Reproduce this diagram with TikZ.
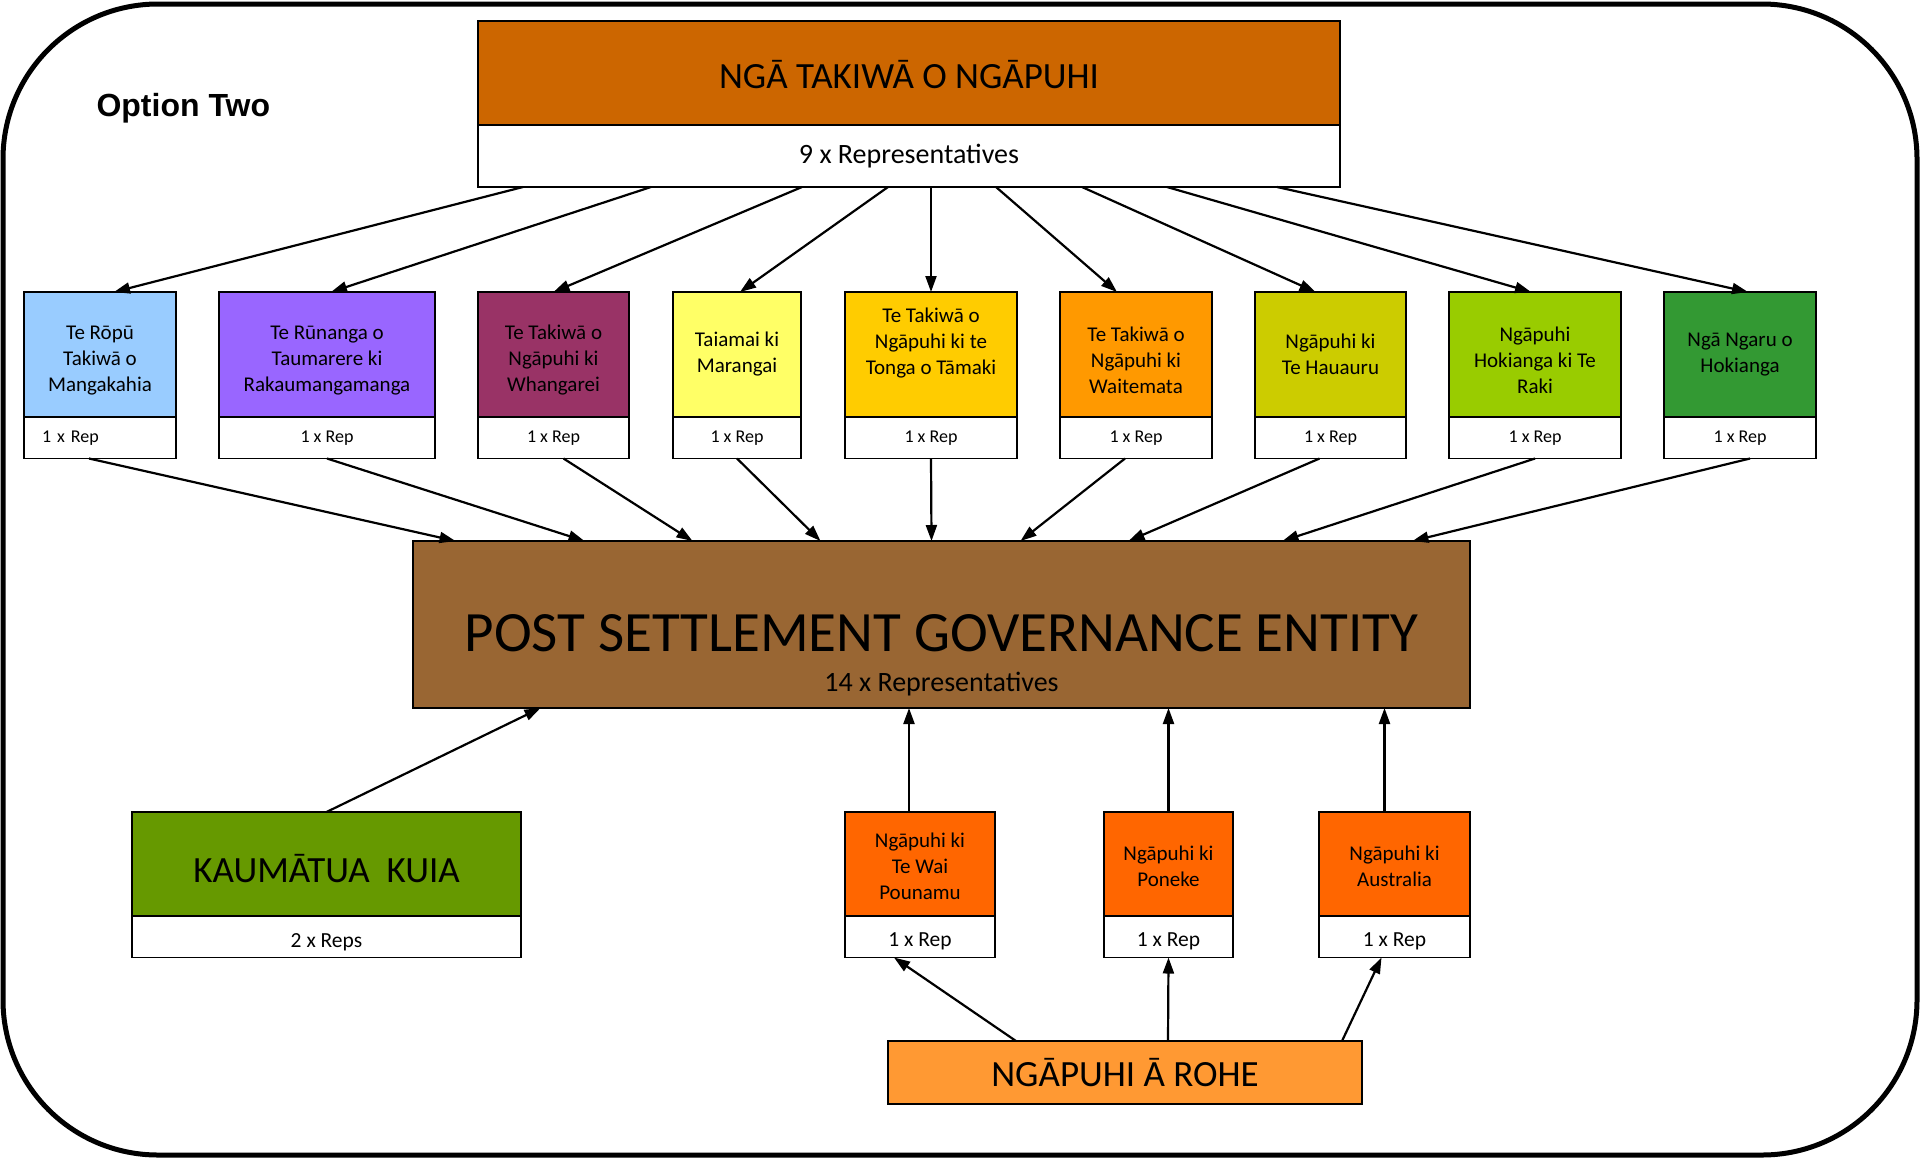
\documentclass[tikz,border=0pt]{standalone}
\usepackage{fontspec}
\setmainfont{Carlito}
\newfontfamily\optfont{Liberation Sans}
\usetikzlibrary{arrows.meta}
\usetikzlibrary{positioning}
\definecolor{hdrorange}{HTML}{CC6600}
\definecolor{rbblue}{HTML}{99CCFF}
\definecolor{rbpurple}{HTML}{9966FF}
\definecolor{rbmaroon}{HTML}{993366}
\definecolor{rbyellow}{HTML}{FFFF66}
\definecolor{rbgold}{HTML}{FFCC00}
\definecolor{rborange}{HTML}{FF9900}
\definecolor{rbolive}{HTML}{CCCC00}
\definecolor{rblime}{HTML}{99CC00}
\definecolor{rbgreen}{HTML}{339933}
\definecolor{psgebrown}{HTML}{996633}
\definecolor{kaugreen}{HTML}{669900}
\definecolor{ovorange}{HTML}{FF6600}
\definecolor{roheorange}{HTML}{FF9933}
\begin{document}
\begin{tikzpicture}[x=1pt,y=-1pt,
  box/.style={draw,line width=1.8pt,outer sep=0pt,inner sep=0pt,anchor=north west,align=center,font=\fontsize{21}{26}\selectfont},
  repbox/.style={draw,fill=white,line width=1.8pt,outer sep=0pt,inner sep=0pt,align=center,minimum height=41.5pt,font=\fontsize{18}{22}\selectfont},
  bigtxt/.style={font=\fontsize{37}{44}\selectfont},
  arr/.style={line width=2.2pt,-{Triangle[length=16pt,width=11pt]}}]
  \useasboundingbox (0,0) rectangle (1921,1160);
  \draw[line width=5pt,rounded corners=155pt] (3,4) rectangle (1917,1155);
  \node[anchor=west,font=\optfont\bfseries\fontsize{32}{38}\selectfont] (opt) at (93,108) {Option Two};
  
  % top
  \node[box,bigtxt,fill=hdrorange,minimum width=862pt,minimum height=104pt] (hdr) at (478,21) {\raisebox{-2pt}[\height][\depth]{NGĀ TAKIWĀ O NGĀPUHI}};
  \node[repbox,below=0pt of hdr,minimum width=862pt,minimum height=62pt,font=\fontsize{28}{34}\selectfont] (hdrR) {9 x Representatives};
  
  % row of takiwā
  \node[box,fill=rbblue,minimum width=152pt,minimum height=125pt] (b1) at (24,292) {\rule{0pt}{26pt}Te Rōpū\\Takiwā o\\Mangakahia};
  \node[box,fill=rbpurple,minimum width=216pt,minimum height=125pt] (b2) at (219,292) {\rule{0pt}{26pt}Te Rūnanga o\\Taumarere ki\\Rakaumangamanga};
  \node[box,fill=rbmaroon,minimum width=151pt,minimum height=125pt] (b3) at (478,292) {\rule{0pt}{26pt}Te Takiwā o\\Ngāpuhi ki\\Whangarei};
  \node[box,fill=rbyellow,minimum width=128pt,minimum height=125pt] (b4) at (673,292) {Taiamai ki\\Marangai};
  \node[box,fill=rbgold,minimum width=172pt,minimum height=125pt] (b5) at (845,292) {Te Takiwā o\\Ngāpuhi ki te\\Tonga o Tāmaki\\~};
  \node[box,fill=rborange,minimum width=152pt,minimum height=125pt] (b6) at (1060,292) {\rule{0pt}{26pt}Te Takiwā o\\Ngāpuhi ki\\Waitemata};
  \node[box,fill=rbolive,minimum width=151pt,minimum height=125pt] (b7) at (1255,292) {Ngāpuhi ki\\Te Hauauru};
  \node[box,fill=rblime,minimum width=172pt,minimum height=125pt] (b8) at (1449,292) {\rule{0pt}{26pt}Ngāpuhi\\Hokianga ki Te\\Raki};
  \node[box,fill=rbgreen,minimum width=152pt,minimum height=125pt] (b9) at (1664,292) {Ngā Ngaru o\\Hokianga};
  
  \node[repbox,below=0pt of b1,minimum width=152pt,text width=116pt,align=left] (b1R) {1 x Rep};
  \node[repbox,below=0pt of b2,minimum width=216pt] (b2R) {1 x Rep};
  \node[repbox,below=0pt of b3,minimum width=151pt] (b3R) {1 x Rep};
  \node[repbox,below=0pt of b4,minimum width=128pt] (b4R) {1 x Rep};
  \node[repbox,below=0pt of b5,minimum width=172pt] (b5R) {1 x Rep};
  \node[repbox,below=0pt of b6,minimum width=152pt] (b6R) {1 x Rep};
  \node[repbox,below=0pt of b7,minimum width=151pt] (b7R) {1 x Rep};
  \node[repbox,below=0pt of b8,minimum width=172pt] (b8R) {1 x Rep};
  \node[repbox,below=0pt of b9,minimum width=152pt] (b9R) {1 x Rep};
  
  % entity
  \node[box,fill=psgebrown,minimum width=1057pt,minimum height=167pt] (psge) at (413,541) {};
  \node[font=\fontsize{57}{66}\selectfont,inner sep=0pt] (psgeT) at ([yshift=-9pt]psge.center) {POST SETTLEMENT GOVERNANCE ENTITY};
  \node[font=\fontsize{28}{34}\selectfont,inner sep=0pt] (psgeS) at ([yshift=-60pt]psge.center) {14 x Representatives};
  
  % bottom
  \node[box,bigtxt,fill=kaugreen,minimum width=389pt,minimum height=104pt] (kau) at (132,812) {\raisebox{-5pt}[\height][\depth]{KAUMĀTUA\ \ KUIA}};
  \node[repbox,below=0pt of kau,minimum width=389pt,font=\fontsize{21.5}{26}\selectfont] (kauR) {\raisebox{-5pt}[\height][\depth]{2 x Reps}};
  \node[box,fill=ovorange,minimum width=150pt,minimum height=104pt] (oa) at (845,812) {\rule{0pt}{20pt}Ngāpuhi ki\\Te Wai\\Pounamu};
  \node[box,fill=ovorange,minimum width=129pt,minimum height=104pt] (ob) at (1104,812) {\rule{0pt}{20pt}Ngāpuhi ki\\Poneke};
  \node[box,fill=ovorange,minimum width=151pt,minimum height=104pt] (oc) at (1319,812) {\rule{0pt}{20pt}Ngāpuhi ki\\Australia};
  \node[repbox,below=0pt of oa,minimum width=150pt,font=\fontsize{21.5}{26}\selectfont] (oaR) {\raisebox{-5pt}[\height][\depth]{1 x Rep}};
  \node[repbox,below=0pt of ob,minimum width=129pt,font=\fontsize{21.5}{26}\selectfont] (obR) {\raisebox{-5pt}[\height][\depth]{1 x Rep}};
  \node[repbox,below=0pt of oc,minimum width=151pt,font=\fontsize{21.5}{26}\selectfont] (ocR) {\raisebox{-5pt}[\height][\depth]{1 x Rep}};
  \node[box,bigtxt,fill=roheorange,minimum width=474pt,minimum height=63pt] (rohe) at (888,1041) {NGĀPUHI Ā ROHE};
  
  \draw[arr]([xshift=-386pt]hdrR.south)--([xshift=14pt]b1.north);
  \draw[arr]([xshift=-258pt]hdrR.south)--([xshift=4pt]b2.north);
  \draw[arr]([xshift=-107pt]hdrR.south)--(b3.north);
  \draw[arr]([xshift=-21pt]hdrR.south)--([xshift=3pt]b4.north);
  \draw[arr]([xshift=22pt]hdrR.south)--(b5.north);
  \draw[arr]([xshift=87pt]hdrR.south)--([xshift=-19pt]b6.north);
  \draw[arr]([xshift=173pt]hdrR.south)--([xshift=-15pt]b7.north);
  \draw[arr]([xshift=258pt]hdrR.south)--([xshift=-4pt]b8.north);
  \draw[arr]([xshift=368pt]hdrR.south)--([xshift=8pt]b9.north);
  
  \draw[arr]([xshift=-11pt]b1R.south)--([xshift=-486pt]psge.north);
  \draw[arr](b2R.south)--([xshift=-357pt]psge.north);
  \draw[arr]([xshift=10pt]b3R.south)--([xshift=-249pt]psge.north);
  \draw[arr](b4R.south)--([xshift=-121pt]psge.north);
  \draw[arr](b5R.south)--([xshift=-10pt]psge.north);
  \draw[arr]([xshift=-11pt]b6R.south)--([xshift=79pt]psge.north);
  \draw[arr]([xshift=-11pt]b7R.south)--([xshift=187pt]psge.north);
  \draw[arr](b8R.south)--([xshift=341pt]psge.north);
  \draw[arr]([xshift=10pt]b9R.south)--([xshift=471pt]psge.north);
  
  \draw[arr](kau.north)--([xshift=-401pt]psge.south);
  \draw[arr]([xshift=-11pt]oa.north)--([xshift=-11pt]oa.north |- psge.south);
  \draw[arr](ob.north)--(ob.north |- psge.south);
  \draw[arr]([xshift=-10pt]oc.north)--([xshift=-10pt]oc.north |- psge.south);
  
  \draw[arr]([xshift=-109pt]rohe.north)--([xshift=-26pt]oaR.south);
  \draw[arr]([xshift=43pt]rohe.north)--(obR.south);
  \draw[arr]([xshift=217pt]rohe.north)--([xshift=-13pt]ocR.south);
\end{tikzpicture}
\end{document}
